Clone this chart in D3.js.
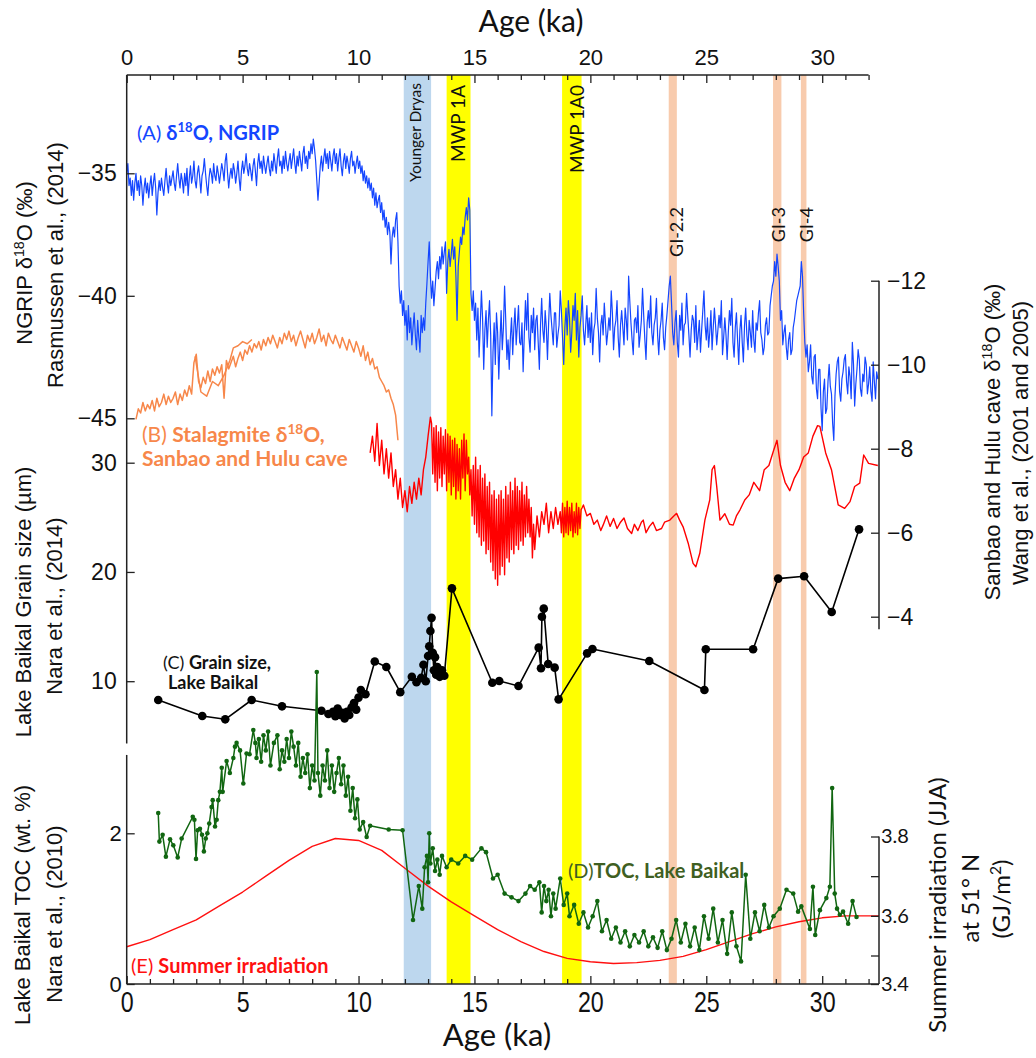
<!DOCTYPE html>
<html>
<head>
<meta charset="utf-8">
<script src="https://d3js.org/d3.v7.min.js"></script>
<style>
body { margin: 0; background: #fff; }
text { font-family: "Liberation Sans", Arial, sans-serif; }
.cal { font-family: Lato, "Open Sans", sans-serif; }
</style>
</head>
<body>
<svg id="chart" width="1036" height="1058"></svg>
<script>
// (A) NGRIP d18O, one value every 0.05 ka from 0 ka
const ngripStep = 0.05
const ngripVal = [
  -35.0, -34.6, -35.5, -35.2, -35.9, -35.3, -36.1, -35.4, -35.0, -35.7,
  -35.3, -35.9, -35.1, -35.5, -36.3, -35.6, -35.2, -35.8, -35.4, -36.0,
  -35.5, -35.1, -35.9, -35.4, -35.0, -35.6, -36.7, -35.8, -35.3, -35.7,
  -35.2, -35.6, -35.9, -35.3, -34.8, -35.4, -35.8, -35.1, -35.5, -35.2,
  -34.9, -35.4, -35.7, -35.1, -34.6, -35.2, -35.6, -35.0, -35.3, -35.8,
  -35.0, -35.5, -34.8, -35.9, -35.2, -34.7, -35.4, -35.1, -34.5, -35.3,
  -35.6, -35.0, -34.7, -35.2, -35.8, -35.1, -34.9, -34.4, -35.0, -35.5,
  -35.9, -35.2, -34.8, -35.0, -35.4, -34.6, -35.1, -35.3, -34.7, -35.0,
  -35.4, -35.0, -34.6, -34.9, -35.3, -34.5, -34.2, -35.0, -35.6, -35.1,
  -34.8, -35.2, -34.6, -34.9, -35.4, -35.0, -34.5, -35.2, -35.7, -34.9,
  -34.5, -35.0, -34.7, -34.2, -34.8, -35.1, -34.6, -34.9, -35.3, -34.7,
  -34.4, -34.9, -35.5, -34.6, -34.2, -34.8, -34.5, -35.0, -34.3, -34.7,
  -35.0, -34.6, -34.3, -34.8, -35.1, -34.5, -34.9, -34.2, -34.6, -35.0,
  -34.4, -34.0, -34.7, -34.5, -35.0, -34.3, -34.8, -34.1, -34.6, -34.9,
  -34.5, -34.2, -34.8, -34.4, -34.0, -34.6, -35.0, -34.3, -34.7, -34.1,
  -34.5, -34.9, -34.2, -33.9, -34.6, -34.3, -34.8, -34.1, -34.4, -33.8,
  -34.2, -33.6, -34.0, -34.5, -35.3, -36.1, -35.4, -34.7, -34.3, -34.9,
  -34.4, -34.0, -34.6, -34.2, -34.8, -34.1, -34.5, -34.9, -34.3, -34.0,
  -34.6, -34.2, -34.9, -34.4, -34.0, -34.7, -35.1, -34.5, -34.2, -34.8,
  -34.3, -34.6, -35.0, -34.4, -34.1, -34.7, -34.5, -35.0, -34.6, -34.3,
  -34.8, -34.5, -35.0, -34.7, -35.3, -34.9, -35.4, -35.1, -35.6, -35.2,
  -35.7, -35.4, -36.0, -35.6, -36.3, -35.8, -36.4, -36.1, -35.9, -36.6,
  -36.2, -36.9, -36.5, -37.2, -36.8, -37.5, -37.0, -37.4, -38.7, -37.6,
  -37.2, -37.6, -36.9, -36.6, -37.8, -39.6, -40.3, -39.8, -40.8, -40.2,
  -41.2, -40.6, -41.8, -40.4, -41.5, -40.9, -42.0, -41.3, -40.7, -41.6,
  -42.2, -41.0, -41.7, -42.3, -40.8, -41.5, -40.9, -41.4, -40.3, -39.5,
  -38.6, -37.8, -39.2, -40.1, -39.4, -40.4, -39.7, -39.0, -38.6, -39.3,
  -38.4, -38.9, -38.0, -38.7, -38.2, -37.8, -39.9, -38.6, -38.1, -38.8,
  -38.3, -37.7, -38.5, -38.0, -39.2, -41.0, -38.8, -38.2, -37.6, -37.9,
  -37.2, -37.5, -36.8, -36.4, -36.9, -36.0, -36.5, -39.9, -40.6, -39.8,
  -41.0, -40.3, -41.8, -40.5, -42.5, -41.2, -39.8, -40.9, -43.0, -41.4,
  -40.6, -42.1, -41.0, -40.2, -41.6, -44.9, -42.3, -41.1, -42.8, -40.7,
  -41.5, -43.4, -41.9, -40.6, -42.2, -41.3, -39.6, -41.0, -42.6, -41.8,
  -43.0, -41.7, -40.9, -42.4, -41.3, -40.5, -42.0, -41.2, -40.4, -41.9,
  -42.0, -41.1, -43.1, -41.6, -40.2, -41.4, -39.9, -41.7, -42.3, -40.8,
  -41.5, -40.5, -42.2, -41.0, -40.8, -41.9, -43.0, -41.2, -40.1, -41.4,
  -41.9, -40.6, -41.3, -42.6, -41.1, -39.9, -40.8, -41.4, -42.0, -40.7,
  -40.7, -42.1, -41.6, -41.2, -39.8, -40.6, -41.7, -42.8, -41.3, -40.5,
  -41.6, -40.2, -40.9, -42.3, -41.5, -40.4, -41.0, -39.9, -41.8, -40.6,
  -42.5, -41.3, -40.8, -40.0, -41.4, -42.0, -41.2, -40.4, -41.7, -40.9,
  -41.9, -40.7, -42.4, -41.4, -41.1, -39.7, -40.9, -41.5, -42.7, -41.2,
  -40.8, -41.6, -40.3, -41.1, -42.0, -41.5, -40.9, -41.4, -39.8, -40.7,
  -42.2, -41.3, -41.0, -40.2, -41.7, -42.5, -41.2, -40.6, -41.3, -42.0,
  -40.5, -41.0, -41.8, -39.2, -40.2, -41.1, -41.8, -42.4, -41.0, -40.9,
  -41.5, -40.4, -42.1, -41.6, -41.0, -39.7, -40.8, -41.8, -42.6, -41.1,
  -40.6, -41.3, -40.0, -41.5, -42.0, -41.2, -40.9, -40.1, -41.6, -42.4,
  -41.4, -41.0, -40.3, -41.7, -42.2, -41.3, -40.8, -40.2, -39.6, -39.2,
  -40.3, -41.5, -42.0, -41.1, -40.6, -41.9, -42.5, -40.8, -41.4, -40.3,
  -42.0, -41.2, -41.1, -39.9, -40.8, -41.6, -42.5, -41.4, -40.8, -41.0,
  -41.9, -40.4, -42.2, -41.6, -41.0, -42.3, -41.4, -40.6, -39.8, -41.2,
  -41.8, -40.9, -42.1, -41.5, -40.6, -42.2, -41.3, -40.5, -41.2, -42.0,
  -41.4, -40.8, -41.3, -40.2, -42.4, -41.7, -40.9, -41.6, -42.6, -41.5,
  -40.6, -41.2, -40.1, -41.9, -42.5, -41.3, -40.7, -41.8, -42.8, -41.4,
  -40.8, -41.9, -42.7, -41.2, -40.5, -41.6, -42.2, -41.0, -41.5, -42.1,
  -40.6, -41.8, -42.3, -41.1, -41.4, -40.7, -40.2, -41.5, -41.8, -42.4,
  -42.1, -41.2, -40.9, -41.6, -41.5, -40.4, -40.0, -39.6, -39.4, -38.6,
  -39.2, -38.3, -38.8, -39.4, -41.0, -40.6, -42.0, -41.5, -41.2, -42.1,
  -42.6, -41.8, -41.5, -42.4, -42.2, -41.3, -41.0, -40.6, -40.2, -40.0,
  -39.8, -39.6, -38.6, -39.2, -40.7, -41.9, -42.5, -42.0, -43.1, -42.7,
  -42.0, -43.3, -43.6, -42.5, -42.4, -43.8, -44.2, -43.0, -43.0, -44.6,
  -45.5, -43.9, -43.4, -44.8, -44.6, -43.5, -42.8, -43.7, -44.0, -45.2,
  -45.9, -44.1, -43.2, -42.7, -42.5, -43.9, -44.3, -43.4, -43.1, -42.6,
  -42.4, -43.5, -44.0, -42.9, -43.3, -44.2, -41.9, -42.8, -44.5, -43.6,
  -43.0, -42.2, -42.6, -43.8, -44.1, -43.2, -43.5, -42.5, -42.8, -44.0,
  -43.6, -42.9, -43.9, -44.3, -42.7, -43.5, -44.2, -43.1, -43.4
]

// (B) stalagmite d18O, orange record, every 0.1 ka from 0.4 ka
const stalStart = 0.4
const stalStep = 0.1
const stalVal = [
  -8.70, -8.95, -8.85, -9.10, -8.90, -9.05,
  -8.95, -9.15, -8.90, -9.20, -9.00, -9.10, -9.30, -9.05, -9.25, -9.10,
  -9.20, -9.35, -9.05, -9.30, -9.15, -9.40, -9.25, -9.50, -9.30, -10.05,
  -10.25, -9.60, -9.45, -9.70, -9.55, -9.85, -9.60, -9.90, -9.75, -9.95,
  -9.80, -10.00, -9.20, -10.10, -9.90, -10.05, -10.20, -9.95, -10.15, -10.30,
  -10.10, -10.35, -10.25, -10.45, -10.30, -10.50, -10.40, -10.55, -10.35, -10.60,
  -10.45, -10.65, -10.50, -10.70, -10.55, -10.40, -10.65, -10.50, -10.75, -10.60,
  -10.80, -10.55, -10.70, -10.45, -10.65, -10.80, -10.60, -10.40, -10.70, -10.55,
  -10.75, -10.50, -10.65, -10.85, -10.55, -10.70, -10.45, -10.75, -10.60, -10.50,
  -10.70, -10.55, -10.40, -10.65, -10.50, -10.35, -10.60, -10.45, -10.30, -10.55,
  -10.40, -10.20, -10.45, -10.10, -10.30, -10.00, -10.15, -9.90, -9.95, -9.70,
  -9.60, -9.50, -9.35, -9.40, -9.20, -9.05, -8.80, -8.20
]
const stal2Age = [2.95, 3.2, 3.45, 3.7, 3.95, 4.2, 4.45, 4.6, 4.8, 5.0, 5.2, 5.4]
const stal2Val = [-10.2, -9.35, -9.25, -9.6, -9.5, -9.75, -10.1, -10.4, -10.45, -10.55, -10.5, -10.6]

// (B) red cave record
const caveEarlyAge = [10.5, 10.6, 10.7, 10.8, 10.9, 11.0, 11.1, 11.2, 11.3, 11.4, 11.5, 11.6, 11.7, 11.8, 11.9, 12.0,
  12.1, 12.2, 12.3, 12.4, 12.5, 12.6, 12.7, 12.8, 12.9, 13.0, 13.1]
const caveEarlyVal = [-7.9, -8.3, -7.7, -8.6, -7.6, -8.2, -7.4, -8.0, -7.3, -7.9, -7.1, -7.5, -6.8, -7.3, -6.6, -7.0,
  -6.5, -7.1, -6.7, -7.2, -6.8, -7.3, -6.9, -7.5, -7.8, -8.3, -8.75]
// dense part, every 0.05 ka from 13.15 ka
const caveDenseStart = 13.15
const caveDenseVal = [
  -8.6, -7.4, -8.5, -7.2, -8.55, -7.0, -8.4, -7.3, -8.5, -7.1, -8.3, -7.4, -8.45, -7.0, -8.35, -7.2, -8.3,
  -6.9, -8.2, -7.1, -8.25, -6.8, -8.1, -7.0, -8.0, -6.8, -8.2, -7.3, -8.35, -7.0, -8.2, -7.4, -7.8, -6.9,
  -7.5, -6.4, -7.6, -6.2, -7.8, -6.0, -7.5, -5.9, -7.6, -5.7, -7.3, -5.8, -7.4, -5.5,
  -7.1, -5.6, -7.2, -5.3, -6.9, -5.1, -7.0, -4.9, -6.8, -4.75,
  -6.9, -5.0, -7.0, -5.2, -6.8, -5.0, -7.1, -5.4, -6.9, -5.3,
  -7.2, -5.6, -7.0, -5.5, -7.3, -5.7, -7.1, -5.6, -7.0, -5.8,
  -7.2, -5.7, -6.9, -5.9, -7.1, -6.0, -6.8, -5.9, -6.6
]
const caveMidAge = [17.5, 17.55, 17.6, 17.7, 17.8, 17.9, 18.0, 18.1, 18.2, 18.3, 18.4, 18.5, 18.6, 18.7]
const caveMidVal = [-5.4, -6.2, -5.6, -6.4, -5.9, -6.5, -6.2, -6.7, -6.0, -6.5, -6.1, -6.6, -6.2, -6.5]
const caveDense2Start = 18.75
const caveDense2Val = [-6.0, -6.7, -5.9, -6.6, -6.0, -6.75, -5.95, -6.6, -6.05, -6.7, -5.9, -6.5, -6.0, -6.7, -5.95, -6.6, -6.1, -6.55, -6.6]
const caveLateAge = [19.7, 19.85, 20.0, 20.15, 20.3, 20.45, 20.55, 20.7, 20.85, 21.0, 21.15, 21.3, 21.45, 21.6, 21.78, 21.9,
  22.05, 22.2, 22.28, 22.4, 22.55, 22.7, 22.85, 23.07, 23.2, 23.43, 23.6, 23.72, 23.85, 24.0, 24.22, 24.43, 24.55,
  24.72, 24.94, 25.15, 25.25, 25.35, 25.45, 25.59, 25.8, 26.0, 26.16, 26.3, 26.45, 26.66, 26.85, 27.05, 27.3, 27.5,
  27.7, 27.9, 28.05, 28.2, 28.4, 28.6, 28.8, 29.0, 29.2, 29.4, 29.6, 29.8, 29.9, 30.15, 30.4, 30.69, 30.97, 31.2,
  31.4, 31.62, 31.79, 32.0, 32.4]
const caveLateVal = [-6.66, -6.4, -6.46, -6.2, -6.3, -6.05, -6.18, -6.4, -6.15, -6.34, -6.1, -6.25, -6.35, -6.1, -5.98, -6.2,
  -6.05, -6.25, -6.3, -6.0, -6.15, -6.25, -6.05, -6.1, -6.25, -6.3, -6.4, -6.46, -6.3, -6.14, -5.75, -5.27, -5.19,
  -5.51, -6.3, -6.78, -7.5, -7.6, -7.1, -6.3, -6.45, -6.2, -6.18, -6.4, -6.54, -6.78, -6.9, -7.2, -7.0, -7.5,
  -7.6, -7.95, -8.2, -7.6, -7.2, -7.0, -7.3, -7.5, -7.8, -7.9, -8.3, -8.55, -8.53, -7.9, -7.5, -6.66, -6.58, -6.74,
  -7.1, -7.18, -7.85, -7.65, -7.6]

// (C) grain size, Lake Baikal (um)
const grainAge = [1.36, 3.26, 4.25, 5.39, 6.7, 8.4, 8.7, 8.9, 9.0, 9.1, 9.2, 9.3, 9.4, 9.5, 9.6, 9.7, 9.8, 9.9, 10.0, 10.1,
  10.3, 10.7, 11.2, 11.8, 12.3, 12.5, 12.7, 12.8, 12.9, 13.0, 13.05, 13.1, 13.15, 13.2, 13.25, 13.3, 13.35, 13.4,
  13.5, 13.6, 13.7, 14.03, 15.77, 16.07, 16.9, 17.77, 17.87, 17.91, 17.99, 18.18, 18.46, 18.63, 19.86, 20.09,
  22.54, 24.92, 24.98, 27.02, 28.1, 29.22, 30.41, 31.59]
const grainVal = [8.28, 6.81, 6.51, 8.28, 7.7, 7.3, 7.0, 7.2, 6.8, 7.5, 6.9, 7.1, 6.6, 7.2, 6.9, 7.6, 8.0, 7.4, 8.5, 9.2,
  8.8, 11.8, 11.3, 9.0, 10.4, 9.9, 10.3, 11.5, 10.0, 12.3, 13.2, 14.6, 15.8, 12.6, 11.0, 12.2, 10.6, 11.3,
  10.4, 11.0, 10.5, 18.5, 9.86, 10.02, 9.56, 13.07, 11.18, 15.9, 16.64, 11.57, 11.24, 8.34, 12.55, 12.95,
  11.85, 9.19, 12.92, 12.92, 19.39, 19.6, 16.34, 23.9]

// (D) TOC, Lake Baikal (wt. %)
const tocAge = [1.36, 1.41, 1.55, 1.69, 1.87, 2.01, 2.2, 2.37, 2.85, 2.92, 2.99, 3.06, 3.16, 3.25, 3.33, 3.41, 3.48, 3.56,
  3.66, 3.71, 3.81, 3.88, 3.95, 4.02, 4.1, 4.14, 4.31, 4.45, 4.6, 4.67, 4.74, 4.89, 5.03, 5.17, 5.3, 5.46, 5.55,
  5.6, 5.7, 5.8, 5.9, 6.0, 6.1, 6.2, 6.35, 6.5, 6.6, 6.7, 6.8, 6.9, 7.0, 7.1, 7.2, 7.3, 7.4, 7.5, 7.6, 7.7, 7.8,
  7.9, 8.0, 8.1, 8.2, 8.25, 8.35, 8.45, 8.55, 8.65, 8.75, 8.85, 8.95, 9.05, 9.15, 9.25, 9.35, 9.45, 9.55, 9.65,
  9.75, 9.85, 9.95, 10.05, 10.2, 10.35, 10.5, 11.3, 11.9, 12.35, 12.6, 12.75, 12.85, 12.95, 13.0, 13.05, 13.1,
  13.2, 13.3, 13.4, 13.5, 13.6, 13.8, 14.0, 14.3, 14.6, 14.9, 15.3, 15.5, 15.8, 16.0, 16.3, 16.6, 16.9, 17.2,
  17.4, 17.6, 17.8, 17.9, 18.0, 18.1, 18.2, 18.3, 18.4, 18.5, 18.7, 18.85, 19.0, 19.1, 19.3, 19.5, 19.7, 19.9,
  20.1, 20.3, 20.5, 20.7, 20.9, 21.1, 21.3, 21.5, 21.7, 21.9, 22.1, 22.3, 22.5, 22.7, 22.9, 23.1, 23.3, 23.5,
  23.7, 23.9, 24.1, 24.3, 24.5, 24.7, 24.9, 25.1, 25.3, 25.5, 25.7, 25.9, 26.1, 26.3, 26.5, 26.7, 26.9, 27.1,
  27.3, 27.5, 27.7, 27.9, 28.17, 28.46, 28.75, 28.96, 29.1, 29.47, 29.6, 29.7, 29.9, 30.18, 30.33, 30.43, 30.54,
  30.64, 30.76, 30.9, 31.12, 31.31, 31.48]
const tocVal = [2.27, 1.89, 1.98, 1.69, 1.92, 1.84, 1.68, 1.93, 2.22, 2.18, 1.66, 2.04, 2.06, 1.98, 1.76, 1.93, 2.0, 2.13,
  2.35, 2.44, 2.09, 2.18, 2.44, 2.55, 2.87, 2.55, 2.96, 2.8, 3.0, 3.15, 3.2, 3.1, 2.66, 3.06, 3.05, 3.37, 3.2,
  3.0, 3.25, 2.95, 3.3, 3.1, 3.35, 2.9, 3.2, 3.3, 2.85, 3.1, 2.95, 3.25, 3.0, 3.35, 3.15, 2.9, 3.2, 2.75, 3.0,
  2.8, 3.05, 2.6, 2.9, 2.7, 4.14, 2.8, 2.5, 2.9, 2.7, 3.1, 2.6, 2.9, 2.55, 2.8, 3.0, 2.65, 2.9, 2.5, 2.75, 2.3,
  2.6, 2.2, 2.45, 2.05, 2.15, 1.95, 2.1, 2.05, 2.04, 0.85, 1.3, 1.0, 1.55, 1.7, 1.35, 2.0, 1.6,
  1.8, 1.5, 1.65, 1.45, 1.7, 1.55, 1.65, 1.6, 1.7, 1.65, 1.8, 1.75, 1.4, 1.45, 1.2, 1.15, 1.1, 1.2,
  1.3, 1.25, 1.35, 0.95, 1.3, 1.1, 1.25, 0.9, 1.2, 1.0, 1.4, 1.05, 1.2, 0.9, 1.05, 0.8, 0.95, 0.75,
  0.9, 1.1, 0.7, 0.85, 0.6, 0.75, 0.55, 0.7, 0.5, 0.65, 0.55, 0.7, 0.5, 0.62, 0.48, 0.7, 0.45, 0.6,
  0.85, 0.55, 0.8, 0.5, 0.75, 0.45, 0.9, 0.6, 1.0, 0.55, 0.85, 0.4, 0.95, 0.5, 0.3, 1.45, 0.6, 0.95,
  0.7, 1.05, 0.75, 0.9, 1.0, 1.25, 1.2, 0.96, 1.03, 0.73, 1.29, 0.65, 0.98, 1.14, 1.29, 2.6, 1.2,
  1.0, 0.92, 0.96, 0.8, 1.1, 0.89]

// (E) summer irradiation at 51 N (GJ/m2)
const irrAge = [0, 1, 2, 3, 4, 5, 6, 7, 8, 9, 10, 11, 12, 13, 14, 15, 16, 17, 18, 19, 20, 21, 22, 23, 24, 25, 26, 27, 28, 29, 30, 31, 32, 32.45]
const irrVal = [3.522, 3.54, 3.565, 3.59, 3.625, 3.66, 3.70, 3.74, 3.775, 3.795, 3.79, 3.765, 3.72, 3.675, 3.635, 3.60, 3.565,
  3.535, 3.51, 3.49, 3.478, 3.472, 3.475, 3.483, 3.497, 3.515, 3.535, 3.555, 3.572, 3.585, 3.595, 3.6, 3.6, 3.6]

// shaded intervals (ka)
const bandNames = ["Younger Dryas", "MWP 1A", "MWP 1A0", "GI-2.2", "GI-3", "GI-4"]
const bandFrom = [11.95, 13.8, 18.78, 23.38, 27.88, 29.08]
const bandTo = [13.13, 14.83, 19.62, 23.73, 28.24, 29.32]
const bandColor = ["#bdd7ee", "#ffff00", "#ffff00", "#f8cbad", "#f8cbad", "#f8cbad"]

const svg = d3.select("#chart")
const axisColor = "#222"

const x = d3.scaleLinear().domain([0, 32.45]).range([126.7, 879])
const yNgrip = d3.scaleLinear().domain([-45, -35]).range([418.3, 173.3])
const yCave = d3.scaleLinear().domain([-12, -4]).range([280.7, 616.7])
const yGrain = d3.scaleLinear().domain([10, 30]).range([681.2, 462.7])
const yToc = d3.scaleLinear().domain([0, 2]).range([984, 833.3])
const yIrr = d3.scaleLinear().domain([3.4, 3.5, 3.8]).range([984, 955.5, 836.5])

const frameTop = 75
const frameBottom = 984

// bands
bandNames.forEach(function (name, i) {
  svg.append("rect")
    .attr("x", x(bandFrom[i]))
    .attr("y", frameTop)
    .attr("width", x(bandTo[i]) - x(bandFrom[i]))
    .attr("height", frameBottom - frameTop)
    .attr("fill", bandColor[i])
})

const bandLabel = [
  { top: 83, size: 15.5, dx: 4 },
  { top: 85, size: 19, dx: 6 },
  { top: 85, size: 19, dx: 12 },
  { top: 207, size: 18, dx: 10 },
  { top: 207, size: 18, dx: 8 },
  { top: 207, size: 18, dx: 9 }
]
bandNames.forEach(function (name, i) {
  let cx = (x(bandFrom[i]) + x(bandTo[i])) / 2 + bandLabel[i].dx
  svg.append("text")
    .attr("class", "cal")
    .attr("transform", "translate(" + cx + "," + bandLabel[i].top + ") rotate(-90)")
    .attr("text-anchor", "end")
    .style("font-size", bandLabel[i].size + "px")
    .attr("fill", "#111")
    .text(name)
})

// series
function evenPoints(start, step, vals) {
  return vals.map((v, i) => [start + i * step, v])
}
function pairs(ages, vals) {
  return ages.map((a, i) => [a, vals[i]])
}
function drawLine(pts, yScale, color, width) {
  svg.append("path")
    .datum(pts)
    .attr("fill", "none")
    .attr("stroke", color)
    .attr("stroke-width", width)
    .attr("stroke-linejoin", "round")
    .attr("d", d3.line().x(d => x(d[0])).y(d => yScale(d[1])))
}

drawLine(pairs(irrAge, irrVal), yIrr, "#ff1010", 1.4)
drawLine(evenPoints(0, ngripStep, ngripVal), yNgrip, "#1446ff", 1.2)
drawLine(evenPoints(stalStart, stalStep, stalVal), yCave, "#f7874a", 1.5)
drawLine(pairs(stal2Age, stal2Val), yCave, "#f7874a", 1.5)

let cavePts = pairs(caveEarlyAge, caveEarlyVal)
  .concat(evenPoints(caveDenseStart, 0.05, caveDenseVal))
  .concat(pairs(caveMidAge, caveMidVal))
  .concat(evenPoints(caveDense2Start, 0.05, caveDense2Val))
  .concat(pairs(caveLateAge, caveLateVal))
drawLine(cavePts, yCave, "#ff0000", 1.4)

let grainPts = pairs(grainAge, grainVal)
drawLine(grainPts, yGrain, "#000", 1.6)
svg.selectAll("circle.grain")
  .data(grainPts)
  .enter()
  .append("circle")
  .attr("class", "grain")
  .attr("cx", d => x(d[0]))
  .attr("cy", d => yGrain(d[1]))
  .attr("r", 4.3)
  .attr("fill", "#000")

let tocPts = pairs(tocAge, tocVal)
drawLine(tocPts, yToc, "#116611", 1.5)
svg.selectAll("circle.toc")
  .data(tocPts)
  .enter()
  .append("circle")
  .attr("class", "toc")
  .attr("cx", d => x(d[0]))
  .attr("cy", d => yToc(d[1]))
  .attr("r", 2.3)
  .attr("fill", "#116611")

// axes
function styleAxis(g, size) {
  g.selectAll("path.domain").remove()
  g.selectAll("line").attr("stroke", axisColor).attr("stroke-width", 1.3)
  g.selectAll("text").attr("fill", "#111").style("font-size", size + "px")
    .style("font-family", "'Liberation Sans', Arial, sans-serif")
}
function vline(xp, y1, y2) {
  svg.append("line").attr("x1", xp).attr("x2", xp).attr("y1", y1).attr("y2", y2)
    .attr("stroke", axisColor).attr("stroke-width", 1.5)
}
function hline(y, x1, x2) {
  svg.append("line").attr("x1", x1).attr("x2", x2).attr("y1", y).attr("y2", y)
    .attr("stroke", axisColor).attr("stroke-width", 1.5)
}

const majorAge = [0, 5, 10, 15, 20, 25, 30]
const minorAge = d3.range(0, 33).filter(d => d % 5 != 0)

let topAx = svg.append("g").attr("transform", "translate(0," + frameTop + ")")
  .call(d3.axisTop(x).tickValues(majorAge).tickSize(-8).tickPadding(10).tickFormat(d3.format("d")))
styleAxis(topAx, 22)
let topMinor = svg.append("g").attr("transform", "translate(0," + frameTop + ")")
  .call(d3.axisTop(x).tickValues(minorAge).tickSize(-5).tickFormat(""))
styleAxis(topMinor, 10)
hline(frameTop, x(0), x(32))

let botAx = svg.append("g").attr("transform", "translate(0," + frameBottom + ")")
  .call(d3.axisBottom(x).tickValues(majorAge).tickSize(-8).tickPadding(7).tickFormat(d3.format("d")))
styleAxis(botAx, 29)
botAx.selectAll("text").attr("transform", "scale(0.8,1)")
let botMinor = svg.append("g").attr("transform", "translate(0," + frameBottom + ")")
  .call(d3.axisBottom(x).tickValues(minorAge).tickSize(-5).tickFormat(""))
styleAxis(botMinor, 10)
hline(frameBottom, x(0), x(32.45))

// left axes
let leftX = x(0)
vline(leftX, frameTop, yGrain(4.3))
vline(leftX, yToc(3.04), frameBottom)
let axN = svg.append("g").attr("transform", "translate(" + leftX + ",0)")
  .call(d3.axisLeft(yNgrip).tickValues([-35, -40, -45]).tickSize(-8).tickPadding(10))
styleAxis(axN, 23)
let axG = svg.append("g").attr("transform", "translate(" + leftX + ",0)")
  .call(d3.axisLeft(yGrain).tickValues([10, 20, 30]).tickSize(-8).tickPadding(10))
styleAxis(axG, 23)
let axT = svg.append("g").attr("transform", "translate(" + leftX + ",0)")
  .call(d3.axisLeft(yToc).tickValues([0, 2]).tickSize(-8).tickPadding(5).tickFormat(d3.format("d")))
styleAxis(axT, 22)

// right axes
let rightX = x(32.45)
vline(rightX, yCave(-12), yCave(-3.7))
vline(rightX, yIrr(3.8), frameBottom)
let axC = svg.append("g").attr("transform", "translate(" + rightX + ",0)")
  .call(d3.axisRight(yCave).tickValues([-12, -10, -8, -6, -4]).tickSize(-8).tickPadding(8))
styleAxis(axC, 23)
let axI = svg.append("g").attr("transform", "translate(" + rightX + ",0)")
  .call(d3.axisRight(yIrr).tickValues([3.4, 3.5, 3.6, 3.7, 3.8]).tickSize(-8).tickPadding(2)
    .tickFormat(d => (Math.round(d * 10) % 2 == 0) ? d3.format(".1f")(d) : ""))
styleAxis(axI, 20)
axI.selectAll("text").style("font-family", "Lato, sans-serif")

// titles
function rich(parent, attrs, parts) {
  let t = parent.append("text")
  Object.keys(attrs).forEach(k => t.attr(k, attrs[k]))
  parts.forEach(p => {
    let s = t.append("tspan").text(p.t)
    if (p.b) s.attr("font-weight", "bold")
    if (p.sup) s.attr("baseline-shift", "super").style("font-size", "65%")
  })
  return t
}
function vtitle(xp, yp, size, parts, cls) {
  return rich(svg, {
    transform: "translate(" + xp + "," + yp + ") rotate(-90)",
    "text-anchor": "middle", "font-size": size, fill: "#111", class: cls || ""
  }, parts)
}

rich(svg, { x: 531, y: 32, "text-anchor": "middle", "font-size": 30, class: "cal", fill: "#111" }, [{ t: "Age (ka)" }])
rich(svg, { x: 497, y: 1046, "text-anchor": "middle", "font-size": 31, class: "cal", fill: "#111" }, [{ t: "Age (ka)" }])

vtitle(32, 263, 22, [{ t: "NGRIP δ" }, { t: "18", sup: 1 }, { t: "O (‰)" }])
vtitle(63, 265, 22, [{ t: "Rasmussen et al., (2014)" }])
vtitle(31, 602, 22, [{ t: "Lake Baikal Grain size (µm)" }])
vtitle(62, 606, 22, [{ t: "Nara et al., (2014)" }])
vtitle(30, 905, 22, [{ t: "Lake Baikal TOC (wt. %)" }])
vtitle(62, 914, 22, [{ t: "Nara et al., (2010)" }])

vtitle(1000, 442, 22, [{ t: "Sanbao and Hulu cave δ" }, { t: "18", sup: 1 }, { t: "O (‰)" }])
vtitle(1028, 443, 22, [{ t: "Wang et al., (2001 and 2005)" }])
vtitle(946, 905, 24, [{ t: "Summer irradiation (JJA)" }], "cal")
vtitle(979, 898, 24, [{ t: "at 51°   N" }], "cal")
vtitle(1010, 899, 24, [{ t: "(GJ/m" }, { t: "2", sup: 1 }, { t: ")" }], "cal")

// series labels
rich(svg, { x: 137, y: 140, "font-size": 20, class: "cal", fill: "#1446ff" },
  [{ t: "(A) " }, { t: "δ", b: 1 }, { t: "18", sup: 1, b: 1 }, { t: "O, NGRIP", b: 1 }])
rich(svg, { x: 142, y: 442, "font-size": 21, class: "cal", fill: "#f7874a" },
  [{ t: "(B) " }, { t: "Stalagmite δ", b: 1 }, { t: "18", sup: 1, b: 1 }, { t: "O,", b: 1 }])
rich(svg, { x: 142, y: 466, "font-size": 21, class: "cal", fill: "#f7874a" },
  [{ t: "Sanbao and Hulu cave", b: 1 }])
rich(svg, { x: 163, y: 669, "font-size": 18, class: "cal", fill: "#111" },
  [{ t: "(C) " }, { t: "Grain size,", b: 1 }])
rich(svg, { x: 168, y: 689, "font-size": 18, class: "cal", fill: "#111" },
  [{ t: "Lake Baikal", b: 1 }])
rich(svg, { x: 568, y: 878, "font-size": 20, class: "cal", fill: "#3f5f22" },
  [{ t: "(D)" }, { t: "TOC, Lake Baikal", b: 1 }])
rich(svg, { x: 131, y: 973, "font-size": 20, class: "cal", fill: "#ff1010" },
  [{ t: "(E) " }, { t: "Summer irradiation", b: 1 }])
</script>
</body>
</html>
